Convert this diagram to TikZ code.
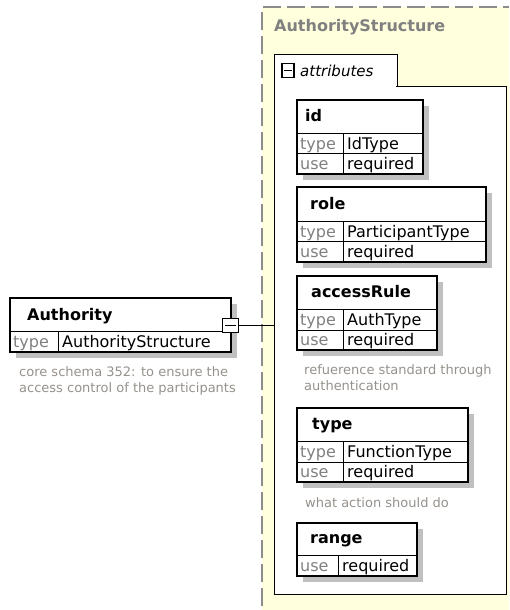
\documentclass[tikz,border=0pt]{standalone}
\usepackage{fontspec}
\setmainfont{DejaVu Sans}
\definecolor{bgyellow}{RGB}{255,255,221}
\definecolor{dashgray}{RGB}{140,140,140}
\definecolor{shadowgray}{RGB}{192,192,192}
\definecolor{lblgray}{RGB}{128,128,128}
\definecolor{descgray}{RGB}{150,145,140}
\definecolor{titlegray}{RGB}{128,128,128}
\tikzset{
  frame/.style={draw=black,line width=1.2pt,fill=white,inner sep=0pt,outer sep=0pt},
  rowline/.style={draw=black,line width=1pt},
  txt/.style={inner sep=0pt,anchor=base west,font=\fontsize{16}{19}\selectfont},
  hdr/.style={txt,font=\fontsize{16}{19}\selectfont\bfseries},
  lbl/.style={txt,text=lblgray},
  val/.style={txt,text=black},
  desc/.style={inner sep=0pt,anchor=base west,font=\fontsize{13}{16}\selectfont,text=descgray},
  btn/.style={draw=black,line width=1.5pt,fill=white,inner sep=0pt,minimum width=16pt,minimum height=14pt},
}
\newcommand\xbox[5]{%
  \fill[shadowgray] ({#2+6},{#3+6}) rectangle ({#4+6},{#5+6});
  \node[frame,anchor=north west,minimum width={(#4-#2)*1pt},minimum height={(#5-#3)*1pt}] (#1) at (#2,#3) {};}
\begin{document}
\begin{tikzpicture}[x=1pt,y=-1pt]
\useasboundingbox (0,0) rectangle (509,610);
\begin{scope}
\clip (0,0) rectangle (509,610);
% outer complex type area
\fill[bgyellow] (262,7) rectangle (530,630);
\draw[dashgray,line width=1.5pt,dash pattern=on 18pt off 6pt] (262,630) -- (262,7) -- (530,7);
\node[hdr,text=titlegray] (title) at (274,32) {AuthorityStructure};
% attributes container
\node[frame,line width=1pt,anchor=north west,minimum width=232pt,minimum height=508pt] (attrs) at (274,86) {};
\node[frame,line width=1pt,anchor=north west,minimum width=123pt,minimum height=31pt] (tab) at (274,55) {};
\draw[white,line width=1.6pt] ([xshift=0.8pt]tab.south west) -- ([xshift=-0.8pt]tab.south east);
\node[draw=black,line width=1.5pt,fill=white,inner sep=0pt,minimum width=12pt,minimum height=14pt] (tabbtn) at (288,70.5) {};
\draw[line width=1.5pt] ([xshift=2.5pt]tabbtn.west) -- ([xshift=-2.5pt]tabbtn.east);
\node[txt,font=\fontsize{15}{18}\selectfont\itshape] (attrlbl) at (300,77) {attributes};
\end{scope}

% Authority element
\xbox{auth}{10}{298}{231}{352}
\draw[rowline] (10,331) -- (231,331);
\draw[rowline] (58,331) -- (58,352);
\node[hdr] (authname) at (27,320) {Authority};
\node[lbl] (authtl) at (13,347.5) {type};
\node[val] (authtv) at (62,347.5) {AuthorityStructure};
\node[btn] (abtn) at (230.5,325.5) {};
\draw[line width=1.5pt] ([xshift=3.5pt]abtn.west) -- ([xshift=-3.5pt]abtn.east);
\draw[rowline,line width=1.3pt] (abtn.east) -- (abtn.east -| attrs.west);
\node[desc] (authd1) at (19,376.5) {core schema 352: to ensure the};
\node[desc] (authd2) at (19,392.5) {access control of the participants};

% id
\xbox{id}{297}{100}{423}{174}
\draw[rowline] (297,133) -- (423,133);
\draw[rowline] (297,153) -- (423,153);
\draw[rowline] (343,133) -- (343,174);
\node[hdr] (idn) at (305,121.5) {id};
\node[lbl] (idtl) at (300,149) {type};
\node[val] (idtv) at (347,149) {IdType};
\node[lbl] (idul) at (300,169.5) {use};
\node[val] (iduv) at (347,169.5) {required};

% role
\xbox{role}{297}{187}{486}{262}
\draw[rowline] (297,221) -- (486,221);
\draw[rowline] (297,241) -- (486,241);
\draw[rowline] (343,221) -- (343,262);
\node[hdr] (rolen) at (310,209.5) {role};
\node[lbl] (roletl) at (300,237) {type};
\node[val] (roletv) at (347,237) {ParticipantType};
\node[lbl] (roleul) at (300,257.5) {use};
\node[val] (roleuv) at (347,257.5) {required};

% accessRule
\xbox{acc}{297}{276}{437}{350}
\draw[rowline] (297,309) -- (437,309);
\draw[rowline] (297,330) -- (437,330);
\draw[rowline] (343,309) -- (343,350);
\node[hdr] (accn) at (311,297.5) {accessRule};
\node[lbl] (acctl) at (300,325.5) {type};
\node[val] (acctv) at (347,325.5) {AuthType};
\node[lbl] (accul) at (300,345.5) {use};
\node[val] (accuv) at (347,345.5) {required};
\node[desc] (accd1) at (304,374.5) {refuerence standard through};
\node[desc] (accd2) at (304,390.5) {authentication};

% type
\xbox{typ}{297}{408}{468}{482}
\draw[rowline] (297,441) -- (468,441);
\draw[rowline] (297,462) -- (468,462);
\draw[rowline] (343,441) -- (343,482);
\node[hdr] (typn) at (312,429.5) {type};
\node[lbl] (typtl) at (300,457.5) {type};
\node[val] (typtv) at (347,457.5) {FunctionType};
\node[lbl] (typul) at (300,477.5) {use};
\node[val] (typuv) at (347,477.5) {required};
\node[desc] (typd) at (305,507) {what action should do};

% range
\xbox{rng}{297}{523}{417}{576}
\draw[rowline] (297,555) -- (417,555);
\draw[rowline] (338,555) -- (338,576);
\node[hdr] (rngn) at (310,543.5) {range};
\node[lbl] (rngul) at (300,571.5) {use};
\node[val] (rnguv) at (342,571.5) {required};
\end{tikzpicture}
\end{document}
